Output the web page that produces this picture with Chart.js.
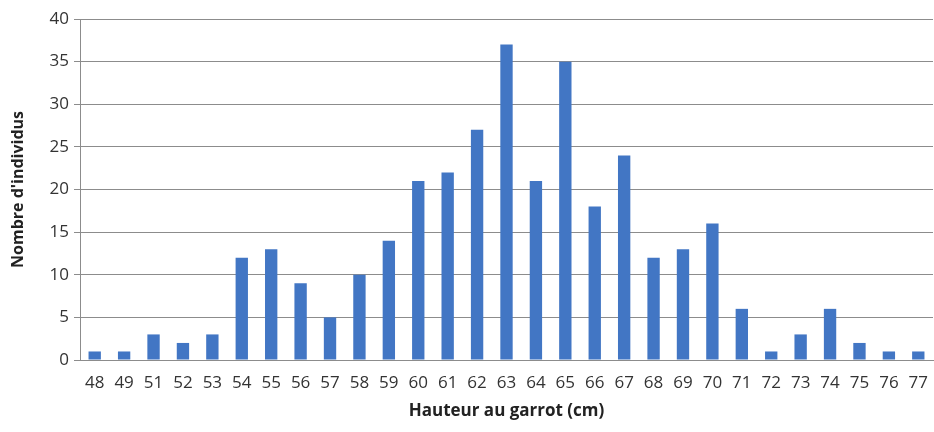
<!DOCTYPE html>
<html>
<head>
  <meta charset="UTF-8">
  <title>Hauteur au garrot</title>
  <script src="https://cdn.jsdelivr.net/npm/chart.js"></script>
  <style>
    body {
      margin: 0;
      background: #fff;
    }
    .wrap {
      width: 934px;
      height: 432px;
    }
  </style>
</head>
<body>
  <div class="wrap"><canvas id="grafik"></canvas></div>

  <script>
    const hauteurs = ['48', '49', '51', '52', '53', '54', '55', '56', '57', '58', '59', '60', '61', '62', '63',
                      '64', '65', '66', '67', '68', '69', '70', '71', '72', '73', '74', '75', '76', '77'];
    const individus = [1, 1, 3, 2, 3, 12, 13, 9, 5, 10, 14, 21, 22, 27, 37,
                       21, 35, 18, 24, 12, 13, 16, 6, 1, 3, 6, 2, 1, 1];
    const yTicks = [0, 5, 10, 15, 20, 25, 30, 35, 40];

    const police = "'Open Sans', 'Liberation Sans', sans-serif";

    const ctx = document.getElementById('grafik').getContext('2d');
    const chart = new Chart(ctx, {
      type: 'bar',
      data: {
        labels: hauteurs,
        datasets: [{
          label: "Nombre d'individus",
          data: individus,
          backgroundColor: '#4276c4',
          barPercentage: 0.42,
          categoryPercentage: 1
        }]
      },
      options: {
        responsive: true,
        maintainAspectRatio: false,
        animation: false,
        layout: {
          padding: { top: 19, right: 1, bottom: 11, left: 9 }
        },
        plugins: {
          legend: { display: false },
          tooltip: { enabled: false }
        },
        scales: {
          x: {
            afterFit: (scale) => {
              scale.height = 61;
              // le dernier libellé déborde, comme dans l'original
              scale.paddingRight = 0;
            },
            grid: { display: false, drawTicks: false },
            border: { color: '#8c8c8c' },
            ticks: {
              color: '#333',
              font: { family: police, size: 17 },
              padding: 13,
              maxRotation: 0,
              autoSkip: false
            },
            title: {
              display: true,
              text: 'Hauteur au garrot (cm)',
              color: '#222',
              font: { family: police, size: 17, weight: 'bold' },
              padding: { top: 4, bottom: 0 }
            }
          },
          y: {
            min: 0,
            max: 40,
            afterBuildTicks: (scale) => {
              scale.ticks = yTicks.map(v => ({ value: v }));
            },
            afterFit: (scale) => {
              scale.width = 71;
            },
            grid: {
              color: '#8c8c8c',
              tickLength: 6
            },
            border: { color: '#8c8c8c' },
            ticks: {
              color: '#333',
              font: { family: police, size: 17 },
              padding: 5
            },
            title: {
              display: true,
              text: "Nombre d'individus",
              color: '#222',
              font: { family: police, size: 16, weight: 'bold' },
              padding: { top: 0, bottom: 4 }
            }
          }
        }
      }
    });
  </script>
</body>
</html>
